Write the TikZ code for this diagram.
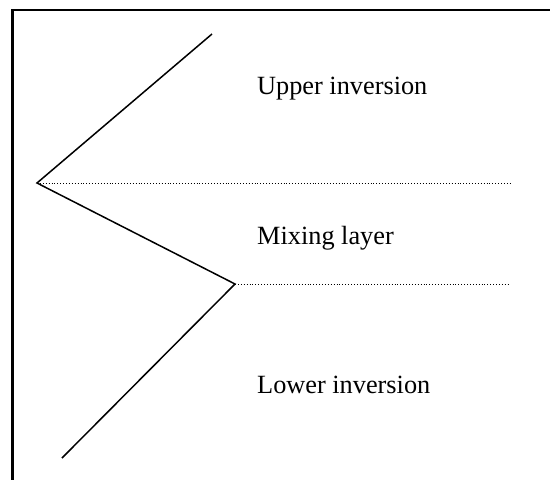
\documentclass[tikz,border=0pt]{standalone}
\usepackage{fontspec}
\setmainfont{Liberation Serif}
\begin{document}
\begin{tikzpicture}[x=1pt,y=-1pt,
  profile/.style={line width=1.5pt, line join=miter},
  level/.style={line width=0.9pt, dotted},
  label/.style={anchor=base west, inner sep=0pt, font=\fontsize{26.3}{30}\selectfont}]
\useasboundingbox (0,0) rectangle (550,480);
\clip (0,0) rectangle (550,480);
\draw[line width=2.2pt] (12.5,490) -- (12.5,10) -- (560,10);
\coordinate (top) at (212,34);
\coordinate (v1) at (37,183);
\coordinate (v2) at (235,284);
\coordinate (bot) at (62,458);
\coordinate (e1) at (510,183);
\coordinate (e2) at (510,284);
\draw[profile] (top) -- (v1) -- (v2) -- (bot);
\draw[level] (v1) -- (e1);
\draw[level] (v2) -- (e2);
\node[label] (up) at (257,94) {Upper inversion};
\node[label] (mix) at (257,244) {Mixing layer};
\node[label] (low) at (257,393) {Lower inversion};
\end{tikzpicture}
\end{document}
